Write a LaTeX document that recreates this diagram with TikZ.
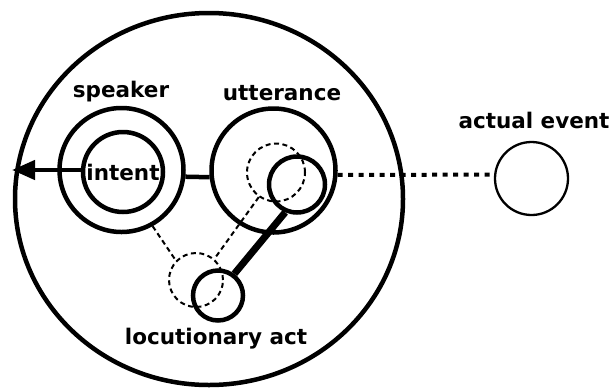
\documentclass[tikz,border=0pt]{standalone}
\usepackage{fontspec}
\setmainfont{DejaVu Sans}
\usetikzlibrary{shapes.geometric,arrows.meta}
\tikzset{
  ring/.style={circle, draw, line width=4.5pt, inner sep=0pt, minimum size=#1},
  dring/.style={circle, draw, line width=2pt, dash pattern=on 5pt off 3.5pt, inner sep=0pt, minimum size=#1},
  thinring/.style={circle, draw, line width=2.3pt, inner sep=0pt, minimum size=#1},
  lbl/.style={font=\fontsize{21.5}{24}\selectfont\bfseries, inner sep=0pt},
  dline/.style={line width=2pt, dash pattern=on 5pt off 3.5pt},
  dotline/.style={line width=4pt, dash pattern=on 5pt off 5.5pt},
}
\begin{document}
\begin{tikzpicture}[x=1pt,y=-1pt]
\useasboundingbox (0,0) rectangle (612,389);
% outer ellipse
\node[ellipse, draw, line width=4.5pt, inner sep=0pt, minimum width=388pt, minimum height=372pt] (world) at (209,199) {};
% dashed circles
\node[dring=58pt] (uttd) at (276,172.5) {};
\node[dring=54pt] (locd) at (196,280) {};
% solid circles
\node[ring=124pt] (speaker) at (121.5,170) {};
\node[ring=80pt, lbl] (intent) at (123,172) {intent};
\node[ring=124pt] (utterance) at (273.5,170.5) {};
\node[ring=56pt] (uttin) at (297,184.5) {};
\node[ring=50pt] (loc) at (218,295.5) {};
\node[thinring=73pt] (event) at (531.5,178.5) {};
% labels
\node[lbl] (lspeaker) at (121,92) {speaker};
\node[lbl] (lutt) at (282,93) {utterance};
\node[lbl] (levent) at (534,120) {actual event};
\node[lbl] (lloc) at (216,339) {locutionary act};
% connectors
\coordinate (tip) at (12,170);
\draw[line width=4.5pt, -{Triangle[length=23pt,width=19pt]}] (intent.west |- 0,170) -- (tip);
\draw[line width=4.5pt] (speaker.-6.5) -- (utterance.186.5);
\draw[dotline] (utterance.-4) -- (event.174.5);
\draw[dline] (speaker.-61) -- (locd.136);
\draw[dline] (uttd.235) -- (locd.49);
\draw[line width=7pt] (uttin.247) -- (loc.53);
\end{tikzpicture}
\end{document}
